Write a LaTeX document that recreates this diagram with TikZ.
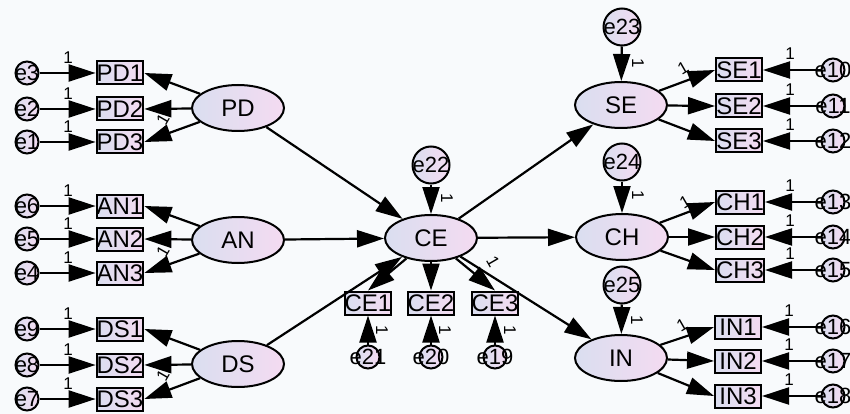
\documentclass[tikz,border=0pt]{standalone}
\usepackage{fontspec}
\setmainfont{Liberation Sans}
\usepackage{xcolor}
\definecolor{semLeft}{RGB}{218,222,240}
\definecolor{semRight}{RGB}{244,219,241}
\definecolor{paper}{RGB}{248,250,252}
\usetikzlibrary{shapes.geometric,arrows.meta}
\newcommand{\etxt}[1]{\makebox[0pt]{#1}}

\begin{document}
\begin{tikzpicture}[
    x=1pt, y=-1pt,
    lat/.style={ellipse, draw, line width=2pt, minimum width=92pt,
                minimum height=46pt, inner sep=0pt,
                left color=semLeft, right color=semRight,
                font=\fontsize{24}{24}\selectfont},
    ind/.style={rectangle, draw, line width=2pt, minimum width=46pt,
                minimum height=23pt, inner sep=0pt,
                left color=semLeft, right color=semRight,
                font=\fontsize{24}{24}\selectfont},
    err/.style={circle, draw, line width=2pt, minimum size=23pt,
                inner sep=0pt, left color=semLeft, right color=semRight,
                font=\fontsize{22}{22}\selectfont},
    dist/.style={err, minimum size=37pt},
    arr/.style={-{Triangle[length=27pt, width=17pt]}, line width=2.2pt},
    one/.style={font=\fontsize{17}{17}\selectfont, inner sep=0pt},
]

\fill[paper] (0,0) rectangle (850,414);
\useasboundingbox (0,0) rectangle (850,414);

% --- LATENT NODES ---
\node[lat] (PD) at (238,108) {PD};
\node[lat] (AN) at (238,240) {AN};
\node[lat] (DS) at (238,364) {DS};
\node[lat] (CE) at (431,238) {CE};
\node[lat] (SE) at (621,105) {SE};
\node[lat] (CH) at (622,237) {CH};
\node[lat] (IN) at (621,358) {IN};

% --- INDICATORS, LEFT ---
\node[ind] (PD1) at (120,73)  {PD1};
\node[ind] (PD2) at (120,109) {PD2};
\node[ind] (PD3) at (120,142) {PD3};
\node[ind] (AN1) at (120,206) {AN1};
\node[ind] (AN2) at (120,239) {AN2};
\node[ind] (AN3) at (120,273) {AN3};
\node[ind] (DS1) at (120,329) {DS1};
\node[ind] (DS2) at (120,365) {DS2};
\node[ind] (DS3) at (120,399) {DS3};

\node[err] (e3) at (27,73)  {\etxt{e3}};
\node[err] (e2) at (27,109) {\etxt{e2}};
\node[err] (e1) at (27,142) {\etxt{e1}};
\node[err] (e6) at (27,206) {\etxt{e6}};
\node[err] (e5) at (27,239) {\etxt{e5}};
\node[err] (e4) at (27,273) {\etxt{e4}};
\node[err] (e9) at (27,329) {\etxt{e9}};
\node[err] (e8) at (27,365) {\etxt{e8}};
\node[err] (e7) at (27,399) {\etxt{e7}};

% --- INDICATORS, CE ---
\node[ind] (CE1) at (368,303) {CE1};
\node[ind] (CE2) at (431,303) {CE2};
\node[ind] (CE3) at (495,303) {CE3};
\node[err] (e21) at (368,357) {\etxt{e21}};
\node[err] (e20) at (431,357) {\etxt{e20}};
\node[err] (e19) at (495,357) {\etxt{e19}};

% --- INDICATORS, RIGHT ---
\node[ind] (SE1) at (739,70)  {SE1};
\node[ind] (SE2) at (739,106) {SE2};
\node[ind] (SE3) at (739,141) {SE3};
\node[ind] (CH1) at (740,202) {CH1};
\node[ind] (CH2) at (740,237) {CH2};
\node[ind] (CH3) at (740,270) {CH3};
\node[ind] (IN1) at (738,327) {IN1};
\node[ind] (IN2) at (738,361) {IN2};
\node[ind] (IN3) at (738,396) {IN3};

\node[err] (e10) at (833,70)  {\etxt{e10}};
\node[err] (e11) at (833,106) {\etxt{e11}};
\node[err] (e12) at (833,141) {\etxt{e12}};
\node[err] (e13) at (833,202) {\etxt{e13}};
\node[err] (e14) at (833,237) {\etxt{e14}};
\node[err] (e15) at (833,270) {\etxt{e15}};
\node[err] (e16) at (833,327) {\etxt{e16}};
\node[err] (e17) at (833,361) {\etxt{e17}};
\node[err] (e18) at (833,396) {\etxt{e18}};

% disturbances
\node[dist] (e22) at (431,165) {\etxt{e22}};
\node[dist] (e23) at (622,27)  {\etxt{e23}};
\node[dist] (e24) at (622,162) {\etxt{e24}};
\node[dist] (e25) at (622,285) {\etxt{e25}};

% --- ARROWS, STRUCTURE ---
\draw[arr] (PD) -- (CE);
\draw[arr] (AN) -- (CE);
\draw[arr] (DS) -- (CE);
\draw[arr] (CE) -- (SE);
\draw[arr] (CE) -- (CH);
\draw[arr] (CE) -- (IN);

\draw[arr] (e22) -- (CE);
\draw[arr] (e23) -- (SE);
\draw[arr] (e24) -- (CH);
\draw[arr] (e25) -- (IN);

% --- ARROWS, MEASUREMENT ---
\draw[arr] (PD) -- (PD1.east);
\draw[arr] (PD) -- (PD2.east);
\draw[arr] (PD) -- (PD3.east);
\draw[arr] (AN) -- (AN1.east);
\draw[arr] (AN) -- (AN2.east);
\draw[arr] (AN) -- (AN3.east);
\draw[arr] (DS) -- (DS1.east);
\draw[arr] (DS) -- (DS2.east);
\draw[arr] (DS) -- (DS3.east);

\draw[arr] (e3) -- (PD1);
\draw[arr] (e2) -- (PD2);
\draw[arr] (e1) -- (PD3);
\draw[arr] (e6) -- (AN1);
\draw[arr] (e5) -- (AN2);
\draw[arr] (e4) -- (AN3);
\draw[arr] (e9) -- (DS1);
\draw[arr] (e8) -- (DS2);
\draw[arr] (e7) -- (DS3);

\draw[arr] (CE) -- (CE1.north);
\draw[arr] (CE) -- (CE2.north);
\draw[arr] (CE) -- (CE3.north);
\draw[arr] (e21) -- (CE1);
\draw[arr] (e20) -- (CE2);
\draw[arr] (e19) -- (CE3);

\draw[arr] (SE) -- (SE1.west);
\draw[arr] (SE) -- (SE2.west);
\draw[arr] (SE) -- (SE3.west);
\draw[arr] (CH) -- (CH1.west);
\draw[arr] (CH) -- (CH2.west);
\draw[arr] (CH) -- (CH3.west);
\draw[arr] (IN) -- (IN1.west);
\draw[arr] (IN) -- (IN2.west);
\draw[arr] (IN) -- (IN3.west);

\draw[arr] (e10) -- (SE1);
\draw[arr] (e11) -- (SE2);
\draw[arr] (e12) -- (SE3);
\draw[arr] (e13) -- (CH1);
\draw[arr] (e14) -- (CH2);
\draw[arr] (e15) -- (CH3);
\draw[arr] (e16) -- (IN1);
\draw[arr] (e17) -- (IN2);
\draw[arr] (e18) -- (IN3);

% --- FIXED LOADINGS ---
\node[one] (w3) at (68,58)  {1};
\node[one] (w2) at (68,94)  {1};
\node[one] (w1) at (68,127) {1};
\node[one] (w6) at (68,191) {1};
\node[one] (w5) at (68,224) {1};
\node[one] (w4) at (68,258) {1};
\node[one] (w9) at (68,314) {1};
\node[one] (w8) at (68,350) {1};
\node[one] (w7) at (68,384) {1};

\node[one] (w10) at (790,54)  {1};
\node[one] (w11) at (790,90)  {1};
\node[one] (w12) at (790,125) {1};
\node[one] (w13) at (790,186) {1};
\node[one] (w14) at (790,221) {1};
\node[one] (w15) at (790,254) {1};
\node[one] (w16) at (789,311) {1};
\node[one] (w17) at (789,345) {1};
\node[one] (w18) at (789,380) {1};

\node[one, rotate=60] (lPD) at (163,119) {1};
\node[one, rotate=60] (lAN) at (163,251) {1};
\node[one, rotate=60] (lDS) at (163,375) {1};

\node[one, rotate=30] (lSE) at (683,68)  {1};
\node[one, rotate=30] (lCH) at (685,202) {1};
\node[one, rotate=30] (lIN) at (682,325) {1};
\node[one, rotate=-60] (lCE) at (493,262) {1};

\node[one, rotate=-90] (w22) at (447,198) {1};
\node[one, rotate=-90] (w23) at (638,63)  {1};
\node[one, rotate=-90] (w24) at (638,195) {1};
\node[one, rotate=-90] (w25) at (637,320) {1};
\node[one, rotate=-90] (w21) at (382,330) {1};
\node[one, rotate=-90] (w20) at (445,330) {1};
\node[one, rotate=-90] (w19) at (510,330) {1};

\end{tikzpicture}
\end{document}
